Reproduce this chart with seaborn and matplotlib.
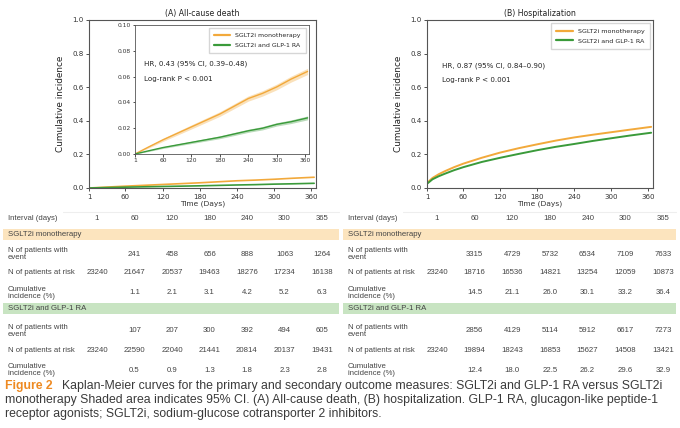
import numpy as np
import pandas as pd
import seaborn as sns
import matplotlib.pyplot as plt
from matplotlib.patches import Rectangle
from matplotlib.lines import Line2D

# ---- data ----
groups = ["SGLT2i monotherapy", "SGLT2i and GLP-1 RA"]
colors = ["#F2A93B", "#3A9A3A"]

# (A) all-cause death, cumulative incidence
days_a = [1, 30, 60, 90, 120, 150, 180, 210, 240, 270, 300, 330, 365]
death_mono = [0.0, 0.0055, 0.011, 0.016, 0.021, 0.026, 0.031, 0.037, 0.043, 0.047, 0.052, 0.058, 0.064]
death_combo = [0.0, 0.0025, 0.005, 0.007, 0.009, 0.011, 0.013, 0.0155, 0.018, 0.020, 0.023, 0.025, 0.028]
death_mono_ci = [0.0, 0.0008, 0.0012, 0.0014, 0.0016, 0.0017, 0.0018, 0.0019, 0.002, 0.0021, 0.0022, 0.0023, 0.0024]
death_combo_ci = [0.0, 0.0005, 0.0007, 0.0008, 0.0009, 0.001, 0.0011, 0.0012, 0.0012, 0.0013, 0.0013, 0.0014, 0.0015]

# (B) hospitalization, cumulative incidence
days_b = [1, 10, 20, 30, 45, 60, 90, 120, 150, 180, 210, 240, 270, 300, 330, 365]
hosp_mono = [0.030, 0.060, 0.082, 0.100, 0.124, 0.145, 0.180, 0.211, 0.237, 0.260, 0.282, 0.301, 0.317, 0.332, 0.347, 0.364]
hosp_combo = [0.025, 0.052, 0.070, 0.085, 0.106, 0.124, 0.155, 0.180, 0.203, 0.225, 0.245, 0.262, 0.280, 0.296, 0.312, 0.329]

# tables
intervals = ["1", "60", "120", "180", "240", "300", "365"]
a_mono_event = ["", "241", "458", "656", "888", "1063", "1264"]
a_mono_risk = ["23240", "21647", "20537", "19463", "18276", "17234", "16138"]
a_mono_cum = ["", "1.1", "2.1", "3.1", "4.2", "5.2", "6.3"]
a_combo_event = ["", "107", "207", "300", "392", "494", "605"]
a_combo_risk = ["23240", "22590", "22040", "21441", "20814", "20137", "19431"]
a_combo_cum = ["", "0.5", "0.9", "1.3", "1.8", "2.3", "2.8"]
b_mono_event = ["", "3315", "4729", "5732", "6534", "7109", "7633"]
b_mono_risk = ["23240", "18716", "16536", "14821", "13254", "12059", "10873"]
b_mono_cum = ["", "14.5", "21.1", "26.0", "30.1", "33.2", "36.4"]
b_combo_event = ["", "2856", "4129", "5114", "5912", "6617", "7273"]
b_combo_risk = ["23240", "19894", "18243", "16853", "15627", "14508", "13421"]
b_combo_cum = ["", "12.4", "18.0", "22.5", "26.2", "29.6", "32.9"]

xticks = [1, 60, 120, 180, 240, 300, 360]

sns.set_theme(style="white")
plt.rcParams["font.family"] = ["DejaVu Sans"]

W, H = 680, 428
fig = plt.figure(figsize=(W / 100, H / 100), dpi=100)


def px_rect(x0, y0, x1, y1):
    # pixel box -> figure fraction [left, bottom, width, height]
    return [x0 / W, 1 - y1 / H, (x1 - x0) / W, (y1 - y0) / H]


def long_df(days, mono, combo):
    return pd.DataFrame({
        "day": list(days) * 2,
        "inc": list(mono) + list(combo),
        "group": [groups[0]] * len(days) + [groups[1]] * len(days),
    })


def style_axes(ax, fs, lw=0.8):
    for s in ax.spines.values():
        s.set_color("#555555")
        s.set_linewidth(lw)
    ax.tick_params(axis="both", labelsize=fs, length=2.5, width=0.6,
                   colors="#333333", bottom=True, left=True, pad=1.5)


def legend(ax, fs):
    handles = [Line2D([0], [0], color=c, lw=1.6) for c in colors]
    ax.legend(handles, groups, loc="upper right", fontsize=fs, frameon=True,
              edgecolor="#cccccc", fancybox=False, handlelength=2.6,
              borderpad=0.8, labelspacing=0.7)


df_a = long_df(days_a, death_mono, death_combo)
df_b = long_df(days_b, hosp_mono, hosp_combo)

# panel A main axes
ax_a = fig.add_axes(px_rect(89, 20, 316, 188))
sns.lineplot(data=df_a, x="day", y="inc", hue="group", palette=colors, ax=ax_a,
             linewidth=1.2, legend=False)
ax_a.set_xlim(1, 368)
ax_a.set_ylim(0, 1)
ax_a.set_xticks(xticks)
ax_a.set_yticks(np.arange(0, 1.01, 0.2))
ax_a.set_yticklabels(["0.0", "0.2", "0.4", "0.6", "0.8", "1.0"])
ax_a.set_title("(A) All-cause death", fontsize=5.6, pad=3, color="#222222")
ax_a.set_xlabel("Time (Days)", fontsize=5.4, labelpad=1, color="#333333")
ax_a.set_ylabel("Cumulative incidence", fontsize=6.4, color="#222222", labelpad=5)
style_axes(ax_a, 5.1)

# inset
ax_i = fig.add_axes(px_rect(135, 25, 309, 154))
for vals, ci, c in [(death_mono, death_mono_ci, colors[0]),
                    (death_combo, death_combo_ci, colors[1])]:
    v = np.array(vals)
    e = np.array(ci)
    ax_i.fill_between(days_a, v - e, v + e, color=c, alpha=0.35, lw=0)
sns.lineplot(data=df_a, x="day", y="inc", hue="group", palette=colors, ax=ax_i,
             linewidth=1.0, legend=False)
ax_i.set_xlim(1, 368)
ax_i.set_ylim(0, 0.1)
ax_i.set_xticks(xticks)
ax_i.set_yticks([0, 0.02, 0.04, 0.06, 0.08, 0.10])
ax_i.set_yticklabels(["0.00", "0.02", "0.04", "0.06", "0.08", "0.10"])
ax_i.set_xlabel("")
ax_i.set_ylabel("")
style_axes(ax_i, 4.3, lw=0.6)
ax_i.tick_params(length=1.8, pad=1)
legend(ax_i, 4.5)
ax_i.text(0.05, 0.70, "HR, 0.43 (95% CI, 0.39\u20130.48)", transform=ax_i.transAxes,
          fontsize=5.1, color="#222222", va="center")
ax_i.text(0.05, 0.58, "Log-rank P < 0.001", transform=ax_i.transAxes,
          fontsize=5.1, color="#222222", va="center")

# panel B
ax_b = fig.add_axes(px_rect(427, 20, 653, 188))
sns.lineplot(data=df_b, x="day", y="inc", hue="group", palette=colors, ax=ax_b,
             linewidth=1.4, legend=False)
ax_b.set_xlim(1, 368)
ax_b.set_ylim(0, 1)
ax_b.set_xticks(xticks)
ax_b.set_yticks(np.arange(0, 1.01, 0.2))
ax_b.set_yticklabels(["0.0", "0.2", "0.4", "0.6", "0.8", "1.0"])
ax_b.set_title("(B) Hospitalization", fontsize=5.6, pad=3, color="#222222")
ax_b.set_xlabel("Time (Days)", fontsize=5.4, labelpad=1, color="#333333")
ax_b.set_ylabel("Cumulative incidence", fontsize=6.4, color="#222222", labelpad=5)
style_axes(ax_b, 5.1)
legend(ax_b, 4.6)
ax_b.text(0.066, 0.73, "HR, 0.87 (95% CI, 0.84\u20130.90)", transform=ax_b.transAxes,
          fontsize=5.1, color="#222222", va="center")
ax_b.text(0.066, 0.64, "Log-rank P < 0.001", transform=ax_b.transAxes,
          fontsize=5.1, color="#222222", va="center")

# ---- tables under the plots ----
TXT = "#444444"
TF = ["Liberation Sans", "DejaVu Sans"]
fs_t = 5.6


def ftext(x, y, s, **kw):
    fig.text(x / W, 1 - y / H, s, fontsize=kw.pop("fs", fs_t), color=kw.pop("color", TXT),
             family=kw.pop("family", TF), va="center", **kw)


def table(x_lab, x0, x1, band_x0, band_x1, mono_rows, combo_rows):
    cols = np.linspace(x0, x1, len(intervals))
    fig.add_artist(Line2D([(x_lab + 55) / W, band_x1 / W], [1 - 212 / H] * 2,
                          color="#eeeeee", lw=0.8))
    ftext(x_lab, 219, "Interval (days)")
    for cx, s in zip(cols, intervals):
        ftext(cx, 219, s, ha="center")
    bands = [("SGLT2i monotherapy", "#FCE4BE", 229, 240, mono_rows, [254, 273, 293]),
             ("SGLT2i and GLP-1 RA", "#C8E4C2", 303, 314, combo_rows, [331, 351, 370])]
    labels = ["N of patients with\nevent", "N of patients at risk", "Cumulative\nincidence (%)"]
    for name, col, yb0, yb1, rows, ys in bands:
        fig.add_artist(Rectangle((band_x0 / W, 1 - yb1 / H), (band_x1 - band_x0) / W,
                                 (yb1 - yb0) / H, color=col, lw=0))
        ftext(x_lab, (yb0 + yb1) / 2, name)
        for lab, row, y in zip(labels, rows, ys):
            ftext(x_lab, y, lab, linespacing=1.15)
            for cx, s in zip(cols, row):
                ftext(cx, y, s, ha="center")


table(8, 97, 322, 3, 339,
      [a_mono_event, a_mono_risk, a_mono_cum],
      [a_combo_event, a_combo_risk, a_combo_cum])
table(348, 437, 663, 343, 676,
      [b_mono_event, b_mono_risk, b_mono_cum],
      [b_combo_event, b_combo_risk, b_combo_cum])

# ---- caption ----
CAP = "#3a3a3a"
fs_c = 8.8
ftext(5, 386, "Figure 2", fs=fs_c, color="#EE8A22", fontweight="bold")
ftext(62, 386, "Kaplan-Meier curves for the primary and secondary outcome measures: "
      "SGLT2i and GLP-1 RA versus SGLT2i", fs=fs_c, color=CAP)
ftext(5, 400, "monotherapy Shaded area indicates 95% CI. (A) All-cause death, "
      "(B) hospitalization. GLP-1 RA, glucagon-like peptide-1", fs=fs_c, color=CAP)
ftext(5, 414, "receptor agonists; SGLT2i, sodium-glucose cotransporter 2 inhibitors.",
      fs=fs_c, color=CAP)

fig.savefig("out.png", dpi=100)
